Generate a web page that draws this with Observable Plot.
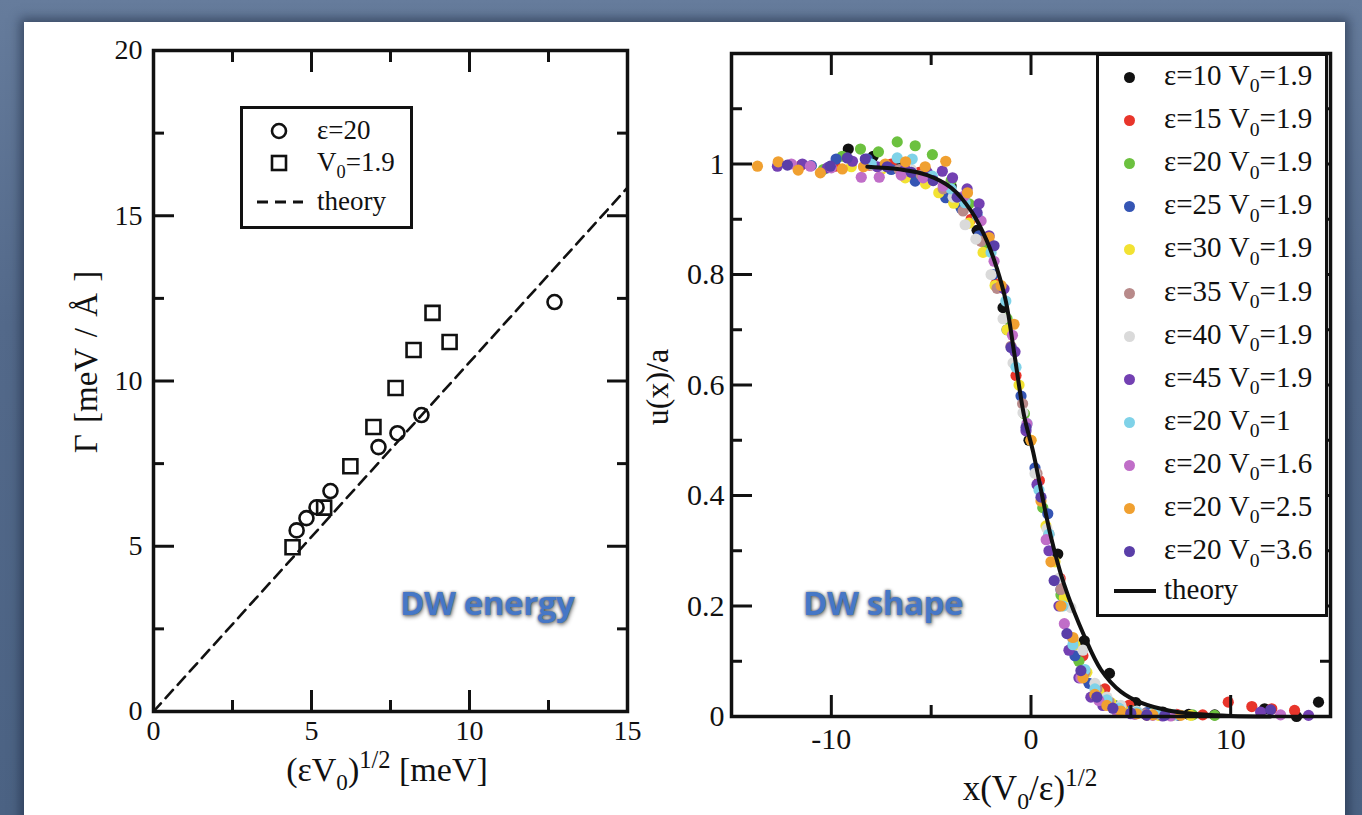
<!DOCTYPE html>
<html><head><meta charset="utf-8">
<script src="https://cdn.jsdelivr.net/npm/d3@7"></script>
<script src="https://cdn.jsdelivr.net/npm/@observablehq/plot@0.6"></script>
<style>
html,body{margin:0;padding:0;width:1362px;height:815px;overflow:hidden;}
body{background:#53698a;background-image:linear-gradient(180deg,#667c9c 0%,#53698a 40%,#4b6283 100%);position:relative;}
#panel{position:absolute;left:24px;top:22px;width:1321px;height:830px;background:#fff;box-shadow:0 0 10px 4px rgba(25,38,60,0.55);}
.abs{position:absolute;}
.serif{font-family:"Liberation Serif","Times New Roman",serif;color:#111;white-space:nowrap;line-height:1;}
.sub{font-size:0.68em;position:relative;top:0.38em;}
.sup{font-size:0.72em;position:relative;top:-0.55em;}
.dw{font-family:"Open Sans",sans-serif;font-weight:700;font-size:33px;color:#4677c6;letter-spacing:-0.4px;white-space:nowrap;line-height:1;
text-shadow:0 0 3px rgba(0,0,0,0.55),1px 2px 4px rgba(0,0,0,0.45);}
.leg{position:absolute;background:#fff;border:3px solid #111;box-sizing:border-box;}
</style></head><body>
<div id="panel"></div>
<div id="left" class="abs" style="left:0;top:0;width:680px;height:800px"></div>
<div id="right" class="abs" style="left:680px;top:0;width:682px;height:800px"></div>
<script>
// ---------- Left panel data: DW energy ----------
const circX = [4.53, 4.84, 5.16, 5.60, 7.12, 7.72, 8.48, 12.69];
const circY = [5.48, 5.85, 6.18, 6.67, 8.00, 8.42, 8.97, 12.39];
const sqX = [4.40, 5.40, 6.23, 6.96, 7.66, 8.23, 8.83, 9.37];
const sqY = [4.97, 6.17, 7.42, 8.61, 9.79, 10.94, 12.06, 11.18];
const theoryEX = [0, 15];
const theoryEY = [0, 15.85];
const leftXTicks = [0, 5, 10, 15];
const leftXMinor = [2.5, 7.5, 12.5];
const leftYTicks = [0, 5, 10, 15, 20];
const leftYMinor = [2.5, 7.5, 12.5, 17.5];

// ---------- Right panel data: DW shape ----------
const seriesEps = [10, 15, 20, 25, 30, 35, 40, 45, 20, 20, 20, 20];
const seriesV0 = ["1.9", "1.9", "1.9", "1.9", "1.9", "1.9", "1.9", "1.9", "1", "1.6", "2.5", "3.6"];
const seriesColors = ["#111111", "#e8352b", "#6cc13f", "#3555b4", "#f2e232", "#b88a8a", "#dadada", "#7340b2", "#7fd2e8", "#c06ec8", "#f0a030", "#5a3ea8"];

const s1x = [-9.15, -7.9, -6.6, -5.3, -4.0, -2.7, -1.4, -0.1, 1.34, 2.67, 3.93, 5.25, 6.6, 7.9, 9.2, 11.7, 13.3, 14.4];
const s1u = [1.027, 1.014, 1.0, 0.99, 0.96, 0.88, 0.74, 0.5, 0.294, 0.137, 0.078, 0.025, 0.008, 0.004, 0.003, 0.014, 0.0, 0.026];
const s2x = [-11.5, -9.8, -8.1, -7.0, -5.6, -4.3, -3.0, -1.76, -0.75, 0.42, 1.46, 2.6, 3.7, 4.9, 6.1, 7.3, 8.6, 9.88, 11.06, 12.06, 13.2];
const s2u = [0.998, 0.996, 0.998, 1.0, 0.985, 0.955, 0.9, 0.783, 0.617, 0.427, 0.25, 0.11, 0.05, 0.02, 0.008, 0.004, 0.003, 0.026, 0.018, 0.014, 0.011];
const s3x = [-10.4, -9.45, -8.54, -7.64, -6.7, -5.8, -4.94, -4.0, -3.1, -2.2, -1.2, -0.33, 0.59, 1.5, 2.4, 3.3, 4.2, 5.1, 6.0, 7.0, 8.1, 9.2];
const s3u = [0.99, 1.014, 1.027, 1.022, 1.04, 1.033, 1.017, 0.97, 0.928, 0.85, 0.72, 0.548, 0.378, 0.22, 0.1, 0.05, 0.02, 0.01, 0.006, 0.004, 0.003, 0.002];
const s4x = [-11.0, -9.76, -8.2, -7.0, -5.8, -4.27, -3.5, -2.6, -1.9, -1.2, -0.5, 0.2, 0.84, 1.5, 2.2, 2.9, 3.6, 4.3, 5.0, 5.8, 6.6, 7.4];
const s4u = [0.997, 1.009, 1.009, 0.99, 0.969, 0.939, 0.92, 0.87, 0.8, 0.7, 0.58, 0.45, 0.367, 0.23, 0.11, 0.06, 0.035, 0.018, 0.01, 0.007, 0.003, 0.002];
const s5x = [-9.0, -7.5, -6.3, -5.28, -4.62, -3.87, -3.1, -2.4, -1.8, -1.2, -0.6, 0.0, 0.75, 1.2, 1.67, 2.2, 2.8, 3.4, 4.0, 4.6, 5.2, 5.8, 6.4, 7.1, 8.0];
const s5u = [0.995, 0.99, 0.975, 0.964, 0.948, 0.929, 0.893, 0.84, 0.78, 0.7, 0.6, 0.5, 0.345, 0.28, 0.215, 0.13, 0.08, 0.045, 0.025, 0.012, 0.005, 0.002, 0.002, 0.002, 0.002];
const s6x = [-8.0, -6.6, -5.5, -4.4, -3.4, -2.5, -1.7, -1.0, -0.42, 0.3, 0.9, 1.5, 2.1, 2.7, 3.3, 3.9, 4.5, 5.1, 5.7];
const s6u = [0.998, 0.99, 0.98, 0.955, 0.915, 0.86, 0.775, 0.67, 0.566, 0.44, 0.33, 0.23, 0.14, 0.08, 0.05, 0.027, 0.015, 0.008, 0.005];
const s7x = [-7.5, -6.0, -4.9, -3.9, -3.3, -2.76, -2.0, -1.4, -0.9, -0.4, 0.2, 0.8, 1.4, 2.0, 2.6, 3.2, 3.8, 4.5, 5.3, 6.1];
const s7u = [0.995, 0.99, 0.97, 0.94, 0.89, 0.864, 0.8, 0.72, 0.64, 0.55, 0.44, 0.34, 0.25, 0.197, 0.12, 0.06, 0.035, 0.02, 0.01, 0.005];
const s8x = [-12.7, -11.45, -10.2, -8.94, -7.7, -6.3, -5.2, -4.44, -3.93, -3.2, -2.6, -2.1, -1.35, -0.8, -0.25, 0.3, 0.9, 1.4, 1.9, 2.4, 3.0, 3.6, 4.3, 5.0, 5.8, 6.6, 11.5, 13.9];
const s8u = [0.996, 1.0, 0.993, 1.005, 0.995, 0.99, 0.985, 0.987, 0.975, 0.955, 0.928, 0.87, 0.774, 0.66, 0.517, 0.42, 0.3, 0.2, 0.12, 0.07, 0.035, 0.02, 0.01, 0.005, 0.002, 0.001, 0.008, 0.002];
const s9x = [-8.0, -6.7, -5.95, -4.94, -4.0, -3.3, -2.68, -2.0, -1.26, -0.75, -0.2, 0.4, 0.9, 1.6, 2.1, 2.7, 3.2, 3.8, 4.4, 5.3, 6.3, 7.2];
const s9u = [1.0, 1.011, 1.009, 0.978, 0.955, 0.93, 0.906, 0.84, 0.752, 0.632, 0.53, 0.41, 0.33, 0.2, 0.13, 0.085, 0.05, 0.03, 0.015, 0.008, 0.005, 0.003];
const s10x = [-12.0, -11.05, -10.0, -8.5, -7.6, -6.5, -5.4, -4.4, -3.35, -2.5, -1.85, -0.93, -0.2, 0.76, 1.67, 2.5, 3.4, 4.3, 5.2, 6.1, 7.0, 12.5];
const s10u = [1.0, 0.996, 0.993, 0.976, 0.976, 0.98, 0.975, 0.96, 0.942, 0.897, 0.824, 0.69, 0.53, 0.32, 0.168, 0.07, 0.029, 0.01, 0.004, 0.002, 0.001, 0.003];
const s11x = [-13.7, -12.66, -11.66, -10.55, -9.45, -8.39, -7.3, -6.28, -5.3, -4.27, -3.18, -2.1, -1.5, -0.85, 0.0, 0.5, 1.0, 1.5, 2.1, 2.6, 3.2, 3.8, 4.5, 5.3, 6.1, 7.5];
const s11u = [0.996, 1.004, 0.989, 0.984, 0.991, 0.995, 1.0, 1.004, 0.995, 1.005, 0.948, 0.867, 0.78, 0.71, 0.5, 0.39, 0.28, 0.2, 0.143, 0.07, 0.04, 0.02, 0.01, 0.005, 0.003, 0.002];
const s12x = [-12.2, -10.05, -9.2, -8.3, -7.2, -6.0, -4.9, -3.7, -2.7, -1.85, -1.0, -0.25, 0.5, 1.16, 1.8, 2.5, 3.3, 4.1, 5.0, 5.8, 6.7, 12.0];
const s12u = [0.998, 0.996, 1.011, 1.009, 0.995, 0.985, 0.97, 0.94, 0.912, 0.852, 0.668, 0.523, 0.397, 0.246, 0.15, 0.083, 0.035, 0.015, 0.006, 0.003, 0.002, 0.012];

const theoryX = [-8.2, -6.5, -5.2, -4.0, -3.0, -2.2, -1.7, -1.25, -0.85, -0.35, 0.1, 0.5, 1.0, 1.65, 2.7, 3.5, 4.5, 5.5, 7.0, 8.5, 10.0, 12.0];
const theoryU = [0.995, 0.99, 0.98, 0.957, 0.915, 0.86, 0.81, 0.75, 0.66, 0.545, 0.48, 0.41, 0.325, 0.24, 0.143, 0.085, 0.045, 0.025, 0.01, 0.004, 0.001, 0.0];

const rightXTicks = [-10, 0, 10];
const rightXMinor = [-15, -5, 5, 15];
const rightYTicks = [0, 0.2, 0.4, 0.6, 0.8, 1];
const rightYMinor = [0.1, 0.3, 0.5, 0.7, 0.9, 1.1];

// ---------- build tables ----------
const zip = (xs, ys) => xs.map((x, i) => ({x, y: ys[i]}));
const circles = zip(circX, circY);
const squares = zip(sqX, sqY);
const theoryE = zip(theoryEX, theoryEY);
const allX = [s1x, s2x, s3x, s4x, s5x, s6x, s7x, s8x, s9x, s10x, s11x, s12x];
const allU = [s1u, s2u, s3u, s4u, s5u, s6u, s7u, s8u, s9u, s10u, s11u, s12u];
const shapePts = allX.flatMap((xs, k) => xs.map((x, i) => ({x, y: allU[k][i], k})));
const theoryS = zip(theoryX, theoryU);

function frameTicks(xMaj, xMin, yMaj, yMin, big, small) {
  const o = {tickFormat: () => "", label: null, strokeWidth: 3, stroke: "#111"};
  const out = [];
  for (const a of ["bottom", "top"]) {
    out.push(Plot.axisX({anchor: a, ticks: xMaj, tickSize: -big, ...o}));
    out.push(Plot.axisX({anchor: a, ticks: xMin, tickSize: -small, ...o}));
  }
  for (const a of ["left", "right"]) {
    out.push(Plot.axisY({anchor: a, ticks: yMaj, tickSize: -big, ...o}));
    out.push(Plot.axisY({anchor: a, ticks: yMin, tickSize: -small, ...o}));
  }
  return out;
}
const styleFor = fs => ({background: "transparent", fontFamily: "'Liberation Serif','Times New Roman',serif", fontSize: fs, color: "#111", overflow: "visible"});

const left = Plot.plot({
  width: 680, height: 800,
  marginLeft: 153, marginRight: 53, marginTop: 50, marginBottom: 89,
  style: styleFor("28px"),
  x: {domain: [0, 15]},
  y: {domain: [0, 20]},
  marks: [
    Plot.line(theoryE, {x: "x", y: "y", stroke: "#111", strokeWidth: 2.6, strokeDasharray: "11,7"}),
    Plot.dot(circles, {x: "x", y: "y", r: 7, stroke: "#111", strokeWidth: 2.6, fill: "none"}),
    Plot.dot(squares, {x: "x", y: "y", r: 7.9, symbol: "square", stroke: "#111", strokeWidth: 2.6, fill: "none"}),
    ...frameTicks(leftXTicks, leftXMinor, leftYTicks, leftYMinor, 21, 11),
    Plot.axisX({anchor: "bottom", ticks: leftXTicks, tickSize: 0, tickPadding: 9, label: null, tickFormat: d => String(d)}),
    Plot.axisY({anchor: "left", ticks: leftYTicks, tickSize: 0, tickPadding: 11, label: null, tickFormat: d => String(d)}),
    Plot.frame({stroke: "#111", strokeWidth: 3.5})
  ]
});
document.getElementById("left").appendChild(left);

const right = Plot.plot({
  width: 682, height: 800,
  marginLeft: 51, marginRight: 32, marginTop: 53, marginBottom: 84,
  style: styleFor("30px"),
  x: {domain: [-15, 15]},
  y: {domain: [0, 1.2]},
  marks: [
    Plot.dot(shapePts, {x: "x", y: "y", r: 5.6, fill: d => seriesColors[d.k], stroke: "none"}),
    Plot.line(theoryS, {x: "x", y: "y", stroke: "#111", strokeWidth: 4, curve: "catmull-rom"}),
    ...frameTicks(rightXTicks, rightXMinor, rightYTicks, rightYMinor, 21, 11),
    Plot.axisX({anchor: "bottom", ticks: rightXTicks, tickSize: 0, tickPadding: 11, label: null, tickFormat: d => String(d)}),
    Plot.axisY({anchor: "left", ticks: rightYTicks, tickSize: 0, tickPadding: 7, label: null, tickFormat: d => String(d)}),
    Plot.frame({stroke: "#111", strokeWidth: 3.5})
  ]
});
document.getElementById("right").appendChild(right);

// ---------- HTML text & legends ----------
function el(tag, cls, style, html) {
  const e = document.createElement(tag);
  if (cls) e.className = cls;
  if (style) e.setAttribute("style", style);
  if (html != null) e.innerHTML = html;
  document.body.appendChild(e);
  return e;
}
// axis labels
el("div", "abs serif", "left:86px;top:362px;font-size:33px;word-spacing:3px;transform:translate(-50%,-50%) rotate(-90deg);", "Γ [meV / Å ]");
el("div", "abs serif", "left:387px;top:770px;font-size:34px;transform:translate(-50%,-50%);", "(εV<span class='sub'>0</span>)<span class='sup'>1/2</span> [meV]");
el("div", "abs serif", "left:657px;top:387px;font-size:32px;transform:translate(-50%,-50%) rotate(-90deg);", "u(x)/a");
el("div", "abs serif", "left:1030px;top:788px;font-size:35px;transform:translate(-50%,-50%);", "x(V<span class='sub'>0</span>/ε)<span class='sup'>1/2</span>");
// DW labels
el("div", "abs dw", "left:400px;top:586px;", "DW energy");
el("div", "abs dw", "left:803px;top:586px;", "DW shape");

// left legend
const lg = el("div", "leg", "left:240px;top:106px;width:173px;height:123px;");
const leftLegend = [
  {sym: "circle", html: "ε=20", y: 22},
  {sym: "square", html: "V<span class='sub'>0</span>=1.9", y: 54},
  {sym: "dash", html: "theory", y: 93}
];
for (const it of leftLegend) {
  const s = document.createElementNS("http://www.w3.org/2000/svg", "svg");
  s.setAttribute("width", 60); s.setAttribute("height", 24);
  s.setAttribute("style", `position:absolute;left:4px;top:${it.y - 12}px;overflow:visible`);
  if (it.sym === "circle") s.innerHTML = `<circle cx="32" cy="12" r="7" fill="none" stroke="#111" stroke-width="2.6"/>`;
  if (it.sym === "square") s.innerHTML = `<rect x="25" y="5" width="14" height="14" fill="none" stroke="#111" stroke-width="2.6"/>`;
  if (it.sym === "dash") s.innerHTML = `<line x1="10" x2="56" y1="12" y2="12" stroke="#111" stroke-width="2.8" stroke-dasharray="11,7"/>`;
  lg.appendChild(s);
  const t = document.createElement("div");
  t.className = "serif";
  t.setAttribute("style", `position:absolute;left:74px;top:${it.y}px;font-size:27px;transform:translateY(-52%);`);
  t.innerHTML = it.html;
  lg.appendChild(t);
}

// right legend
const rg = el("div", "leg", "left:1096px;top:53px;width:232px;height:564px;");
seriesEps.forEach((e, i) => {
  const cy = 77 + 43.1 * i - 53;
  const d = document.createElement("div");
  d.setAttribute("style", `position:absolute;left:${33 - 3 - 5}px;top:${cy - 3 - 5}px;width:11px;height:11px;border-radius:50%;background:${seriesColors[i]};`);
  rg.appendChild(d);
  const t = document.createElement("div");
  t.className = "serif";
  t.setAttribute("style", `position:absolute;left:${65}px;top:${cy - 3}px;font-size:29px;transform:translateY(-55%);`);
  t.innerHTML = `ε=${e} V<span class='sub'>0</span>=${seriesV0[i]}`;
  rg.appendChild(t);
});
{
  const cy = 591 - 53 - 3;
  const ln = document.createElement("div");
  ln.setAttribute("style", `position:absolute;left:15px;top:${cy - 2}px;width:42px;height:4px;background:#111;`);
  rg.appendChild(ln);
  const t = document.createElement("div");
  t.className = "serif";
  t.setAttribute("style", `position:absolute;left:65px;top:${cy}px;font-size:29px;transform:translateY(-55%);`);
  t.textContent = "theory";
  rg.appendChild(t);
}
</script>
</body></html>
